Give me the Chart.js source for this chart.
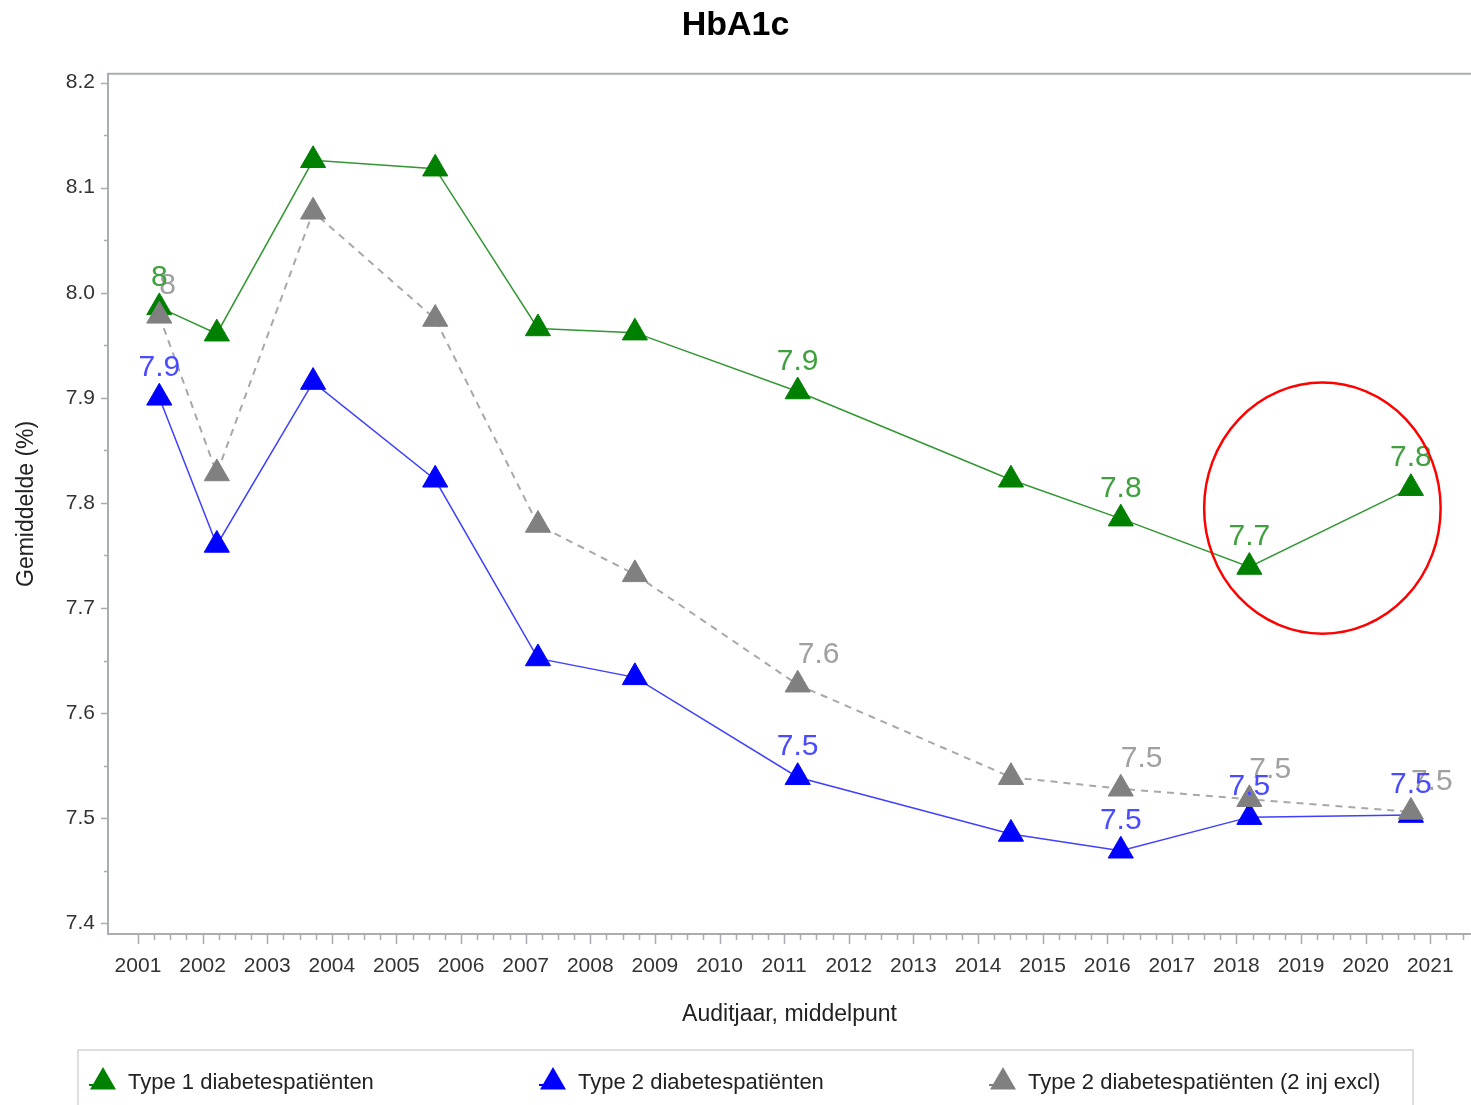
<!DOCTYPE html>
<html lang="nl">
<head>
<meta charset="utf-8">
<title>HbA1c</title>
<script src="https://cdn.jsdelivr.net/npm/chart.js@4.4.1/dist/chart.umd.min.js"></script>
<style>
  html, body { margin: 0; padding: 0; background: #fff; }
</style>
</head>
<body>
<canvas id="hba1c-chart" width="1471" height="1105"></canvas>
<script>
// audit year midpoints (x) and mean HbA1c per group
const auditYears = [2001.33, 2002.22, 2003.71, 2005.60, 2007.19, 2008.69, 2011.21, 2014.51, 2016.21, 2018.20, 2020.70];
const type1Values = [7.986, 7.961, 8.126, 8.118, 7.966, 7.962, 7.906, 7.822, 7.785, 7.739, 7.814];
const type2Values = [7.900, 7.760, 7.915, 7.822, 7.652, 7.634, 7.539, 7.485, 7.469, 7.501, 7.503];
const type2ExclValues = [7.978, 7.828, 8.077, 7.975, 7.779, 7.732, 7.627, 7.539, 7.528, 7.518, 7.506];
const labeledPoints = [0, 6, 8, 9, 10];

const seriesNames = ['Type 1 diabetespatiënten', 'Type 2 diabetespatiënten', 'Type 2 diabetespatiënten (2 inj excl)'];
const xTickYears = [2001, 2002, 2003, 2004, 2005, 2006, 2007, 2008, 2009, 2010, 2011,
  2012, 2013, 2014, 2015, 2016, 2017, 2018, 2019, 2020, 2021];
const yTickValues = [7.4, 7.5, 7.6, 7.7, 7.8, 7.9, 8.0, 8.1, 8.2];

// red ring drawn around the last two type 1 points (data units)
const highlightCenter = { year: 2019.33, value: 7.795 };
const highlightRadius = { years: 1.83, value: 0.1195 };

const FONT = "'Liberation Sans', Arial, sans-serif";
Chart.defaults.font.family = FONT;

const seriesStyles = [
  { marker: '#008000', line: '#329632', label: '#40a040', dash: [], width: 1.5, order: 3, labelAlign: 'center' },
  { marker: '#0000ff', line: '#4040ff', label: '#4a4aff', dash: [], width: 1.5, order: 2, labelAlign: 'center' },
  { marker: '#808080', line: '#a8a8a8', label: '#a0a0a0', dash: [7, 6], width: 2, order: 1, labelAlign: 'left' }
];

function toPoints(values) {
  return auditYears.map((x, i) => ({ x, y: values[i] }));
}

function formatValue(v) {
  return String(Number(v.toFixed(1)));
}

function drawTriangle(ctx, x, y, r, color) {
  ctx.beginPath();
  ctx.moveTo(x, y - r);
  ctx.lineTo(x + r * Math.sin(Math.PI / 3), y + r / 2);
  ctx.lineTo(x - r * Math.sin(Math.PI / 3), y + r / 2);
  ctx.closePath();
  ctx.fillStyle = color;
  ctx.fill();
}

// plot frame plus major/minor tick marks
const framePlugin = {
  id: 'frame',
  beforeDatasetsDraw(chart) {
    const { ctx, chartArea: a, scales: { x, y } } = chart;
    ctx.save();
    ctx.strokeStyle = '#a9adb1';
    ctx.lineWidth = 2;
    ctx.beginPath();
    ctx.moveTo(a.right, a.top);
    ctx.lineTo(a.left, a.top);
    ctx.lineTo(a.left, a.bottom);
    ctx.lineTo(a.right, a.bottom);
    ctx.stroke();

    ctx.lineWidth = 1.5;
    ctx.beginPath();
    for (let i = 0; i < xTickYears.length; i++) {
      for (let q = 0; q < 4; q++) {
        const yr = xTickYears[i] + q / 4;
        if (yr > x.max) break;
        const px = Math.round(x.getPixelForValue(yr)) + 0.5;
        ctx.moveTo(px, a.bottom);
        ctx.lineTo(px, a.bottom + (q === 0 ? 10 : 6));
      }
    }
    for (let i = 0; i < yTickValues.length; i++) {
      const py = Math.round(y.getPixelForValue(yTickValues[i])) + 0.5;
      ctx.moveTo(a.left, py);
      ctx.lineTo(a.left - 7, py);
      if (i < yTickValues.length - 1) {
        const pm = Math.round(y.getPixelForValue(yTickValues[i] + 0.05)) + 0.5;
        ctx.moveTo(a.left, pm);
        ctx.lineTo(a.left - 4, pm);
      }
    }
    ctx.stroke();
    ctx.restore();
  }
};

const valueLabelPlugin = {
  id: 'valueLabels',
  afterDatasetsDraw(chart) {
    const { ctx } = chart;
    ctx.save();
    ctx.font = `30px ${FONT}`;
    ctx.textBaseline = 'middle';
    // grey first, then green, blue on top
    [2, 0, 1].forEach(di => {
      const meta = chart.getDatasetMeta(di);
      const style = seriesStyles[di];
      const values = chart.data.datasets[di].data;
      ctx.fillStyle = style.label;
      ctx.textAlign = style.labelAlign;
      labeledPoints.forEach(idx => {
        const el = meta.data[idx];
        ctx.fillText(formatValue(values[idx].y), el.x, el.y - 30);
      });
    });

    const { x, y } = chart.scales;
    const cx = x.getPixelForValue(highlightCenter.year);
    const cy = y.getPixelForValue(highlightCenter.value);
    const rx = Math.abs(x.getPixelForValue(highlightCenter.year + highlightRadius.years) - cx);
    const ry = Math.abs(y.getPixelForValue(highlightCenter.value + highlightRadius.value) - cy);
    ctx.strokeStyle = '#ff0000';
    ctx.lineWidth = 2.5;
    ctx.beginPath();
    ctx.ellipse(cx, cy, rx, ry, 0, 0, Math.PI * 2);
    ctx.stroke();
    ctx.restore();
  }
};

const legendBoxPlugin = {
  id: 'legendBox',
  afterDraw(chart) {
    const { ctx, chartArea: a, scales: { x } } = chart;
    const left = a.left - 30;
    const top = x.bottom + 10;
    const right = chart.width - 58;
    ctx.save();
    ctx.strokeStyle = '#d4d4d4';
    ctx.lineWidth = 1.5;
    ctx.strokeRect(left, top, right - left, chart.height - top + 10);

    ctx.font = `22px ${FONT}`;
    ctx.textAlign = 'left';
    ctx.textBaseline = 'middle';
    seriesNames.forEach((name, i) => {
      const style = seriesStyles[i];
      const cx = left + 25 + i * 450;
      const cy = top + 32;
      ctx.strokeStyle = style.marker;
      ctx.lineWidth = 2;
      ctx.beginPath();
      ctx.moveTo(cx - 14, cy + 3);
      ctx.lineTo(cx - 5, cy + 3);
      ctx.stroke();
      drawTriangle(ctx, cx, cy, 15, style.marker);
      ctx.fillStyle = '#222';
      ctx.fillText(name, cx + 25, cy + 1);
    });
    ctx.restore();
  }
};

const seriesValues = [type1Values, type2Values, type2ExclValues];

const datasets = seriesValues.map((values, i) => {
  const s = seriesStyles[i];
  return {
    label: seriesNames[i],
    data: toPoints(values),
    borderColor: s.line,
    borderWidth: s.width,
    borderDash: s.dash,
    backgroundColor: s.marker,
    pointStyle: 'triangle',
    pointRadius: 14.5,
    pointHoverRadius: 14.5,
    pointBackgroundColor: s.marker,
    pointBorderColor: s.marker,
    pointBorderWidth: 1,
    tension: 0,
    fill: false,
    order: s.order
  };
});

new Chart(document.getElementById('hba1c-chart'), {
  type: 'line',
  data: { datasets },
  options: {
    responsive: false,
    animation: false,
    devicePixelRatio: 1,
    layout: { autoPadding: false, padding: { top: 0, left: 0, right: 0, bottom: 65 } },
    plugins: {
      legend: { display: false },
      tooltip: { enabled: false },
      title: {
        display: true,
        text: 'HbA1c',
        color: '#000',
        font: { size: 34, weight: 'bold' },
        padding: { top: 5, bottom: 28 }
      }
    },
    scales: {
      x: {
        type: 'linear',
        min: 2000.536,
        max: 2021.63,
        afterBuildTicks: scale => {
          scale.ticks = xTickYears.map(v => ({ value: v }));
        },
        afterFit: scale => {
          scale.height = 106;
          scale.paddingLeft = 0;
          scale.paddingRight = 0;
        },
        grid: { display: false, drawTicks: false },
        border: { display: false },
        ticks: {
          autoSkip: false,
          maxRotation: 0,
          padding: 20,
          color: '#333',
          font: { size: 21 },
          callback: value => String(value)
        },
        title: {
          display: true,
          text: 'Auditjaar, middelpunt',
          color: '#222',
          font: { size: 23 },
          padding: { top: 0, bottom: 12 }
        }
      },
      y: {
        type: 'linear',
        min: 7.3898,
        max: 8.2083,
        afterBuildTicks: scale => {
          scale.ticks = yTickValues.map(v => ({ value: v }));
        },
        afterFit: scale => {
          scale.width = 108;
          scale.paddingTop = 0;
          scale.paddingBottom = 0;
        },
        grid: { display: false, drawTicks: false },
        border: { display: false },
        ticks: {
          padding: 13,
          color: '#333',
          font: { size: 21 },
          callback: value => value.toFixed(1)
        },
        title: {
          display: true,
          text: 'Gemiddelde (%)',
          color: '#222',
          font: { size: 23 },
          padding: { top: 13, bottom: 0 }
        }
      }
    }
  },
  plugins: [framePlugin, valueLabelPlugin, legendBoxPlugin]
});
</script>
</body>
</html>
